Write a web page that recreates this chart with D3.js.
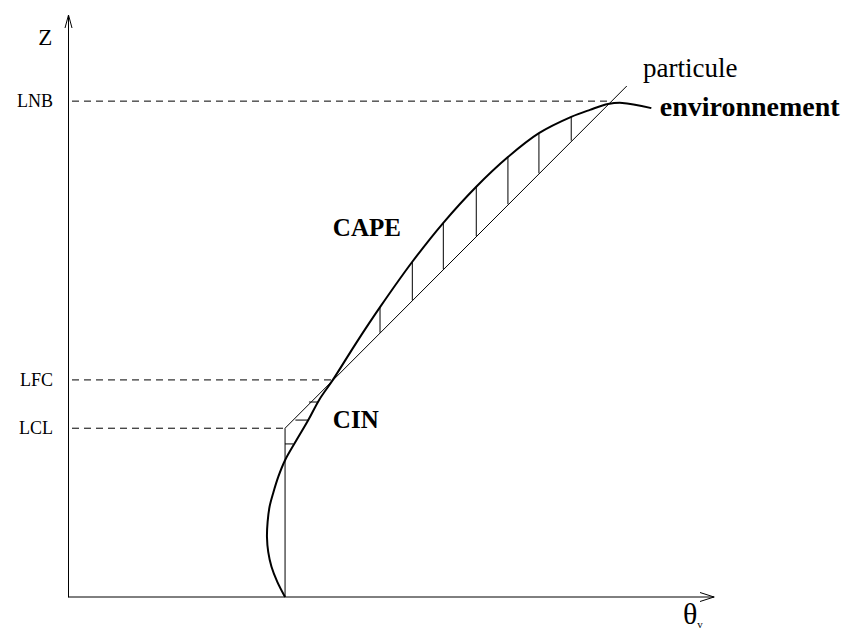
<!DOCTYPE html>
<html>
<head>
<meta charset="utf-8">
<script src="https://cdn.jsdelivr.net/npm/d3@7"></script>
<style>
  body { margin: 0; background: #fff; }
  svg { display: block; }
</style>
</head>
<body>
<div id="container"></div>
<script>
/* CONSTANTS AND GLOBALS */
const width = 846,
  height = 630,
  plotLeft = 68,
  plotRight = 714,
  plotTop = 15,
  plotBottom = 597;

/* DATA (theta_v and z in arbitrary units, 0-100) */
// environment profile
const envTheta = [33.6, 32.4, 31.5, 31.0, 30.8, 30.9, 31.2, 31.8, 32.6, 33.6, 35.4, 37.2, 38.9, 41.0,
                  44.7, 48.3, 53.3, 58.1, 63.2, 68.1, 72.9, 77.9, 80.8, 83.6, 85.8, 90.3];
const envZ     = [0, 2.6, 5.2, 7.7, 10.3, 12.9, 15.5, 18.0, 20.8, 23.5, 27.0, 30.4, 33.9, 37.3,
                  43.8, 49.8, 57.6, 64.3, 70.5, 75.6, 79.7, 82.5, 83.7, 84.7, 84.9, 84.0];

// parcel path (dry adiabat then moist)
const parcelTheta = [33.6, 33.6, 86.5];
const parcelZ     = [0, 29.0, 87.8];

// levels
const levelNames = ["LCL", "LFC", "LNB"];
const levelZ     = [29.0, 37.3, 85.2];
const levelEnd   = [33.6, 41.0, 83.6];

// CAPE hatching (vertical)
const capeTheta = [48.3, 53.3, 58.1, 63.2, 68.1, 72.9, 77.9];
const capeTop   = [49.8, 57.6, 64.3, 70.5, 75.6, 79.7, 82.5];
const capeBot   = [45.4, 51.0, 56.3, 62.0, 67.5, 72.8, 78.4];

// CIN hatching (horizontal)
const cinZ     = [33.5, 30.4, 26.3];
const cinFrom  = [37.3, 35.2, 33.6];
const cinTo    = [38.7, 37.2, 34.9];

// annotations
const noteText  = ["CAPE", "CIN", "particule", "environnement", "Z"];
const noteTheta = [41.0, 41.0, 89.0, 91.6, -4.6];
const noteZ     = [62.0, 29.0, 89.3, 82.6, 94.8];
const noteBold  = [true, true, false, true, false];
const noteSize  = [25, 25, 27, 28, 23];

/* SCALES */
const xScale = d3.scaleLinear().domain([0, 100]).range([plotLeft, plotRight]);
const yScale = d3.scaleLinear().domain([0, 100]).range([plotBottom, plotTop]);

/* SVG */
const svg = d3.select("#container")
  .append("svg")
  .attr("width", width)
  .attr("height", height)
  .style("font-family", "'Liberation Serif', 'Times New Roman', serif");

/* AXES */
const xAxis = d3.axisBottom(xScale).tickValues([]).tickSizeOuter(0);
const yAxis = d3.axisLeft(yScale)
  .tickValues(levelZ)
  .tickSize(0)
  .tickPadding(15)
  .tickFormat((d, i) => levelNames[i]);

// x axis sits on the pixel edge, so it comes out soft and grey like the scan
svg.append("g")
  .attr("transform", `translate(0,${plotBottom - 0.5})`)
  .call(xAxis);

const gy = svg.append("g")
  .attr("transform", `translate(${plotLeft},0)`)
  .call(yAxis);
gy.attr("font-family", null).attr("font-size", null);
gy.selectAll("text")
  .style("font-size", "18px")
  .attr("fill", "#000");

svg.selectAll(".domain").attr("stroke", "#000");

// arrow heads
const arrow = d3.line();
svg.append("path")
  .attr("d", arrow([[xScale(100) - 14, yScale(0) - 4.5], [xScale(100), yScale(0)], [xScale(100) - 14, yScale(0) + 4.5]]))
  .attr("fill", "none").attr("stroke", "#000");
svg.append("path")
  .attr("d", arrow([[xScale(0) - 3, yScale(100) + 13], [xScale(0) + 0.5, yScale(100)], [xScale(0) + 4, yScale(100) + 13]]))
  .attr("fill", "none").attr("stroke", "#000");

/* LEVEL LINES */
svg.selectAll("line.level")
  .data(levelZ)
  .join("line")
  .attr("class", "level")
  .attr("x1", xScale(0) + 4)
  .attr("x2", (d, i) => xScale(levelEnd[i]))
  .attr("y1", d => yScale(d))
  .attr("y2", d => yScale(d))
  .attr("stroke", "#000")
  .attr("stroke-dasharray", "7,5");

/* HATCHING */
svg.selectAll("line.cape")
  .data(capeTheta)
  .join("line")
  .attr("class", "cape")
  .attr("x1", d => xScale(d))
  .attr("x2", d => xScale(d))
  .attr("y1", (d, i) => yScale(capeTop[i]))
  .attr("y2", (d, i) => yScale(capeBot[i]))
  .attr("stroke", "#000");

svg.selectAll("line.cin")
  .data(cinZ)
  .join("line")
  .attr("class", "cin")
  .attr("x1", (d, i) => xScale(cinFrom[i]))
  .attr("x2", (d, i) => xScale(cinTo[i]))
  .attr("y1", d => yScale(d))
  .attr("y2", d => yScale(d))
  .attr("stroke", "#000");

/* CURVES */
const parcelLine = d3.line()
  .x(d => xScale(d[0]))
  .y(d => yScale(d[1]));

svg.append("path")
  .datum(parcelTheta.map((t, i) => [t, parcelZ[i]]))
  .attr("d", parcelLine)
  .attr("fill", "none")
  .attr("stroke", "#000")
  .attr("stroke-width", 1);

const envLine = d3.line()
  .x(d => xScale(d[0]))
  .y(d => yScale(d[1]))
  .curve(d3.curveCatmullRom.alpha(0.5));

svg.append("path")
  .datum(envTheta.map((t, i) => [t, envZ[i]]))
  .attr("d", envLine)
  .attr("fill", "none")
  .attr("stroke", "#000")
  .attr("stroke-width", 2);

/* TEXT */
svg.selectAll("text.note")
  .data(noteText)
  .join("text")
  .attr("class", "note")
  .attr("x", (d, i) => xScale(noteTheta[i]))
  .attr("y", (d, i) => yScale(noteZ[i]))
  .style("font-size", (d, i) => noteSize[i] + "px")
  .style("font-weight", (d, i) => noteBold[i] ? "bold" : "normal")
  .text(d => d);

// theta_v axis label
const xl = svg.append("text")
  .attr("x", xScale(95.2))
  .attr("y", yScale(-4.6))
  .style("font-size", "30px");
xl.append("tspan").text("θ");
xl.append("tspan").attr("dy", 4).style("font-size", "11px").text("v");
</script>
</body>
</html>
